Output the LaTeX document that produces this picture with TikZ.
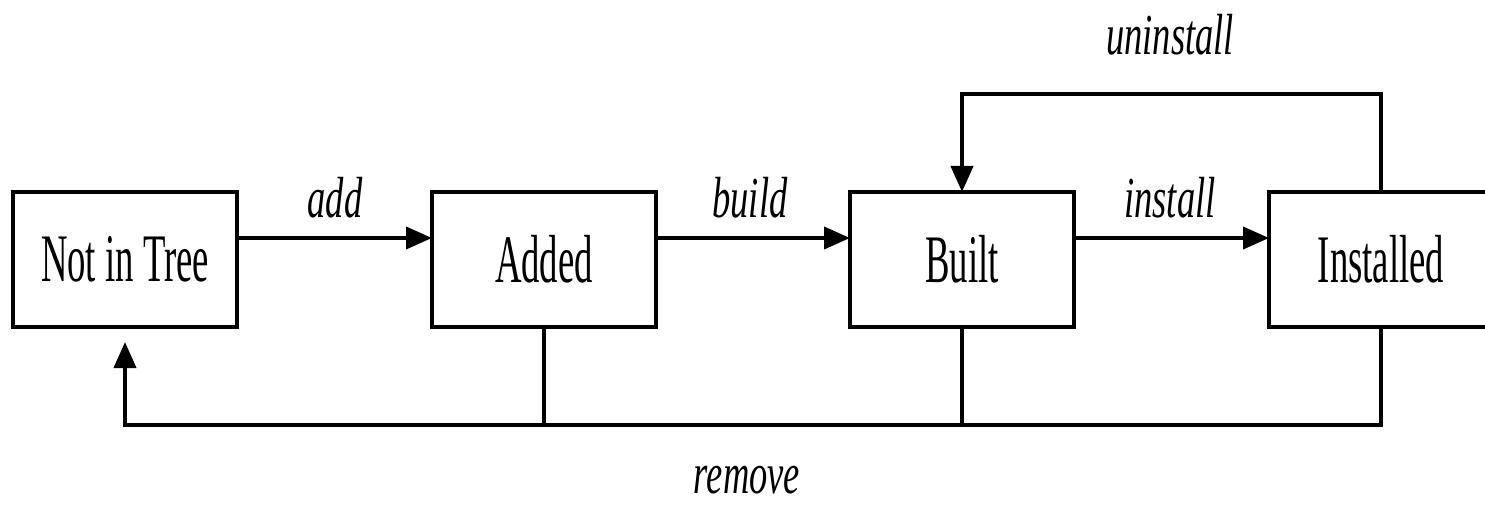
\documentclass[tikz,border=0pt]{standalone}
\usepackage{fontspec}
\setmainfont{Liberation Serif}
\usepackage{graphicx}
\usetikzlibrary{arrows.meta,calc}

\tikzset{
  state/.style={draw, line width=4pt, minimum width=224pt, minimum height=135pt,
    inner sep=0pt, outer sep=0pt,
    font=\fontsize{68}{68}\selectfont},
  trans/.style={inner sep=0pt, anchor=base,
    font=\fontsize{58}{58}\selectfont\itshape},
  conn/.style={line width=4pt},
  arr/.style={conn, -{Triangle[length=26pt,width=22pt]}},
}
\newcommand{\narrowbox}[1]{\scalebox{0.54}[1]{#1}}
\newcommand{\narrowlbl}[1]{\scalebox{0.63}[1]{#1}}

\begin{document}
\begin{tikzpicture}[x=1pt, y=-1pt]
  \clip (0,0) rectangle (1485,505);
  \fill[white] (0,0) rectangle (1485,505);

  % states
  \node[state] (nit)   at (125,259.5)  {\narrowbox{Not in Tree}};
  \node[state] (added) at (544,259.5)  {\narrowbox{Added}};
  \node[state] (built) at (962,259.5)  {\narrowbox{Built}};
  \node[state] (inst)  at (1381,259.5) {\narrowbox{Installed}};

  % forward transitions
  \draw[arr] ([yshift=21.5pt]nit.east)   -- ([yshift=21.5pt]added.west);
  \draw[arr] ([yshift=21.5pt]added.east) -- ([yshift=21.5pt]built.west);
  \draw[arr] ([yshift=21.5pt]built.east) -- ([yshift=21.5pt]inst.west);

  % uninstall loop back to Built
  \draw[arr] (inst.north) -- ++(0,-98) -| (built.north);

  % remove: every later state returns to Not in Tree
  \draw[conn] (added.south) -- ++(0,98);
  \draw[conn] (built.south) -- ++(0,98);
  \draw[arr, shorten >=15pt] (inst.south) |- ($(nit.south)+(0,98)$) -- (nit.south);

  % transition labels
  \node[trans] (ladd)     at (335,217)  {\narrowlbl{add}};
  \node[trans] (lbuild)   at (750,217)  {\narrowlbl{build}};
  \node[trans] (linstall) at (1170,217) {\narrowlbl{install}};
  \node[trans] (lunin)    at (1170,55)  {\narrowlbl{uninstall}};
  \node[trans] (lremove)  at (747,493)  {\narrowlbl{remove}};
\end{tikzpicture}
\end{document}
